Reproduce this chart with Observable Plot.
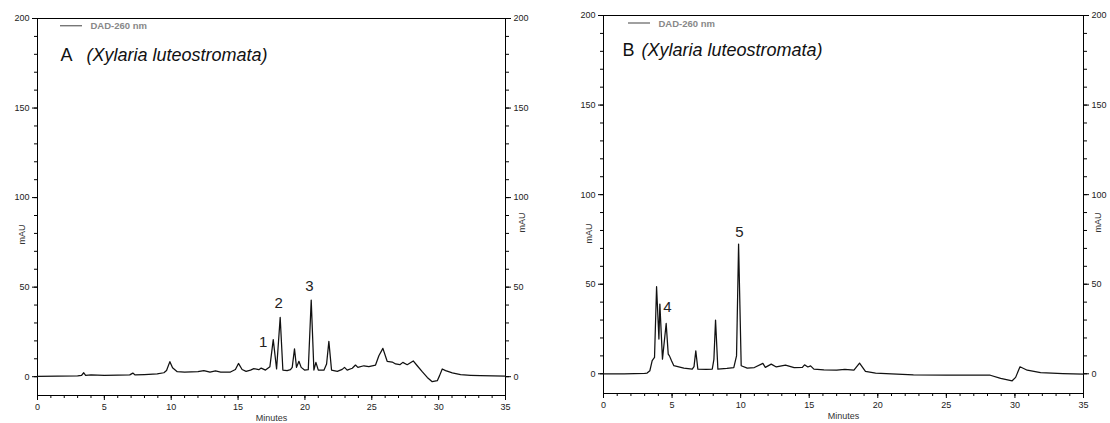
<!DOCTYPE html>
<html><head><meta charset="utf-8">
<script src="https://cdn.jsdelivr.net/npm/d3@7"></script>
<script src="https://cdn.jsdelivr.net/npm/@observablehq/plot@0.6"></script>
<style>
body{margin:0;background:#fff;}
#wrap{position:relative;width:1110px;height:423px;overflow:hidden;}
#wrap svg{position:absolute;top:0;}
</style></head><body><div id="wrap"></div>
<script>
// ---- Data ----
const timeA = [0,1.5,3.0,3.3,3.46,3.6,4.0,5.0,6.0,6.9,7.13,7.3,8.0,8.95,9.45,9.65,9.9,10.1,10.45,11.0,12.0,12.44,12.9,13.31,13.7,14.43,14.8,15.03,15.3,15.6,15.93,16.18,16.55,16.73,17.05,17.38,17.63,17.88,18.15,18.35,18.67,18.92,19.05,19.22,19.37,19.55,19.72,19.97,20.25,20.47,20.67,20.82,21.0,21.42,21.62,21.79,21.99,22.42,22.79,22.96,23.16,23.54,23.78,23.96,24.41,24.78,25.28,25.53,25.83,26.15,26.53,26.78,27.1,27.32,27.65,28.1,28.4,28.77,29.15,29.52,29.9,30.07,30.27,30.52,31.02,31.64,32.39,33.13,35];
const signalA = [0.2,0.3,0.5,0.8,2.2,0.8,1.0,0.8,0.9,1.0,2.0,1.0,1.2,1.6,2.2,3.5,8.4,5.0,2.8,2.6,2.8,3.4,2.6,3.2,2.5,2.6,4.0,7.4,4.0,3.0,3.7,4.5,3.9,4.8,3.7,5.6,20.7,4.3,33.1,3.7,3.4,3.9,5.2,15.5,5.2,8.6,5.2,3.7,3.9,42.8,3.7,8.0,3.7,3.6,7.1,19.7,3.7,3.0,4.1,5.2,3.7,4.7,6.5,5.2,6.1,5.6,6.5,11.7,15.8,8.6,8.2,7.1,6.7,8.0,6.7,8.8,6.1,2.8,-0.4,-2.8,-2.2,0.6,4.3,3.4,2.1,1.1,0.8,0.6,0.3];

const timeB = [0,1.5,3.0,3.18,3.38,3.55,3.72,3.87,4.04,4.11,4.30,4.57,4.72,4.81,4.96,5.13,5.86,6.47,6.6,6.73,6.88,7.5,7.93,8.05,8.17,8.34,9.0,9.5,9.7,9.85,10.04,10.48,11.0,11.62,11.8,12.23,12.6,13.27,13.9,14.5,14.66,14.9,15.1,15.34,16.07,17.0,17.6,18.26,18.67,19.1,19.84,21.0,22.6,25.0,28.2,28.96,29.8,30.05,30.37,30.9,31.87,33.5,35];
const signalB = [0,0,0.2,0.4,1.7,7.3,9.1,48.6,19.4,38.9,8.2,28.1,11,10,7.3,4.5,3.2,2.6,4,12.8,2.6,2.4,2.6,8,30,2.6,3.0,3.5,10,72.4,4.5,3.2,3.5,5.8,3.6,5.4,3.8,4.8,3.4,3.6,5.0,3.8,4.4,2.6,2.2,2.0,2.4,2.0,6.0,1.3,0.4,0.0,-0.6,-0.7,-0.8,-2.6,-3.9,-2.0,3.9,2.0,0.6,0.1,-0.2];

const peakLabelsA = ["1","2","3"];
const peakLabelTimeA = [16.88,18.03,20.34];
const peakLabelSignalA = [19.2,40.8,50.4];
const peakLabelsB = ["4","5"];
const peakLabelTimeB = [4.67,9.92];
const peakLabelSignalB = [37.4,79.3];

const yMajorTicks = [0,50,100,150,200];
const yMinorTicks = [0,10,20,30,40,50,60,70,80,90,100,110,120,130,140,150,160,170,180,190,200];
const xMajorTicks = [0,5,10,15,20,25,30,35];
const xMinorTicks = [0,1,2,3,4,5,6,7,8,9,10,11,12,13,14,15,16,17,18,19,20,21,22,23,24,25,26,27,28,29,30,31,32,33,34,35];
const xLabel = "Minutes";
const yLabel = "mAU";
const legendText = "DAD-260 nm";
const species = "(Xylaria luteostromata)";

const FONT = "'Liberation Sans', Arial, sans-serif";

function panel(cfg) {
  const data = cfg.times.map((t, i) => ({t, v: cfg.values[i]}));
  const labels = cfg.labels.map((l, i) => ({label: l, t: cfg.labelT[i], v: cfg.labelV[i]}));
  const legendLine = (index, scales, values, dims) => {
    const g = d3.create("svg:g");
    g.append("line")
      .attr("x1", dims.marginLeft + cfg.legX1).attr("x2", dims.marginLeft + cfg.legX2)
      .attr("y1", dims.marginTop + cfg.legDy).attr("y2", dims.marginTop + cfg.legDy)
      .attr("stroke", "#777").attr("stroke-width", 1.4);
    return g.node();
  };
  const chart = Plot.plot({
    width: cfg.width, height: 423,
    marginLeft: cfg.mL, marginRight: cfg.mR, marginTop: cfg.mT, marginBottom: cfg.mB,
    x: {domain: [0, 35], label: null},
    y: {domain: [cfg.yMin, 200], label: null},
    style: {fontFamily: FONT, fontSize: "9px", color: "#222", background: "transparent", overflow: "visible"},
    marks: [
      Plot.axisY({anchor: "left", ticks: yMajorTicks, tickSize: 5, tickPadding: 3, label: null, stroke: "#000"}),
      Plot.axisY({anchor: "left", ticks: yMinorTicks, tickSize: 3, tickFormat: () => "", label: null, stroke: "#000"}),
      Plot.axisY({anchor: "right", ticks: yMajorTicks, tickSize: 5, tickPadding: 3, label: null, stroke: "#000"}),
      Plot.axisY({anchor: "right", ticks: yMinorTicks, tickSize: 3, tickFormat: () => "", label: null, stroke: "#000"}),
      Plot.axisX({anchor: "bottom", ticks: xMajorTicks, tickSize: 5, tickPadding: 3, label: null, stroke: "#000"}),
      Plot.axisX({anchor: "bottom", ticks: xMinorTicks, tickSize: 3, tickFormat: () => "", label: null, stroke: "#000"}),
      Plot.frame({stroke: "#000", strokeWidth: 1}),
      Plot.line(data, {x: "t", y: "v", stroke: "#111", strokeWidth: 1.25}),
      Plot.text(labels, {x: "t", y: "v", text: "label", fontSize: 15, fill: "#222", fontFamily: FONT}),
      Plot.text([xLabel], {frameAnchor: "bottom", dy: 23, lineAnchor: "middle", textAnchor: "middle", fontSize: 9, fill: "#333"}),
      Plot.text([yLabel], {frameAnchor: "left", dx: cfg.mauLdx, dy: cfg.mauLdy, textAnchor: "middle", lineAnchor: "middle", rotate: -90, fontSize: 9, fill: "#333"}),
      Plot.text([yLabel], {frameAnchor: "right", dx: cfg.mauRdx, dy: cfg.mauRdy, textAnchor: "middle", lineAnchor: "middle", rotate: -90, fontSize: 9, fill: "#333"}),
      legendLine,
      Plot.text([legendText], {frameAnchor: "top-left", dx: cfg.legTx, dy: cfg.legDy, textAnchor: "start", lineAnchor: "middle", fontSize: 9.5, fontWeight: "bold", fill: "#888"}),
      Plot.text([cfg.letter], {frameAnchor: "top-left", dx: cfg.letDx, dy: cfg.titleDy, textAnchor: "start", lineAnchor: "bottom", fontSize: 18, fill: "#111"}),
      Plot.text([species], {frameAnchor: "top-left", dx: cfg.spDx, dy: cfg.titleDy, textAnchor: "start", lineAnchor: "bottom", fontSize: 18, fontStyle: "italic", fill: "#111"})
    ]
  });
  chart.style.left = cfg.left + "px";
  document.getElementById("wrap").appendChild(chart);
}

panel({left: 0, width: 555, mL: 37, mR: 50, mT: 18, mB: 28, yMin: -10.5,
  times: timeA, values: signalA, labels: peakLabelsA, labelT: peakLabelTimeA, labelV: peakLabelSignalA,
  letter: "A", letDx: 23, spDx: 49, titleDy: 42,
  legX1: 23, legX2: 45, legTx: 53, legDy: 7.7,
  mauLdx: -15, mauLdy: 27.5, mauRdx: 17, mauRdy: 15.5});

panel({left: 555, width: 555, mL: 48, mR: 27, mT: 15, mB: 30, yMin: -11,
  times: timeB, values: signalB, labels: peakLabelsB, labelT: peakLabelTimeB, labelV: peakLabelSignalB,
  letter: "B", letDx: 19, spDx: 38, titleDy: 40,
  legX1: 25, legX2: 47, legTx: 55, legDy: 8,
  mauLdx: -14, mauLdy: 29, mauRdx: 15, mauRdy: 18});
</script>
</body></html>
